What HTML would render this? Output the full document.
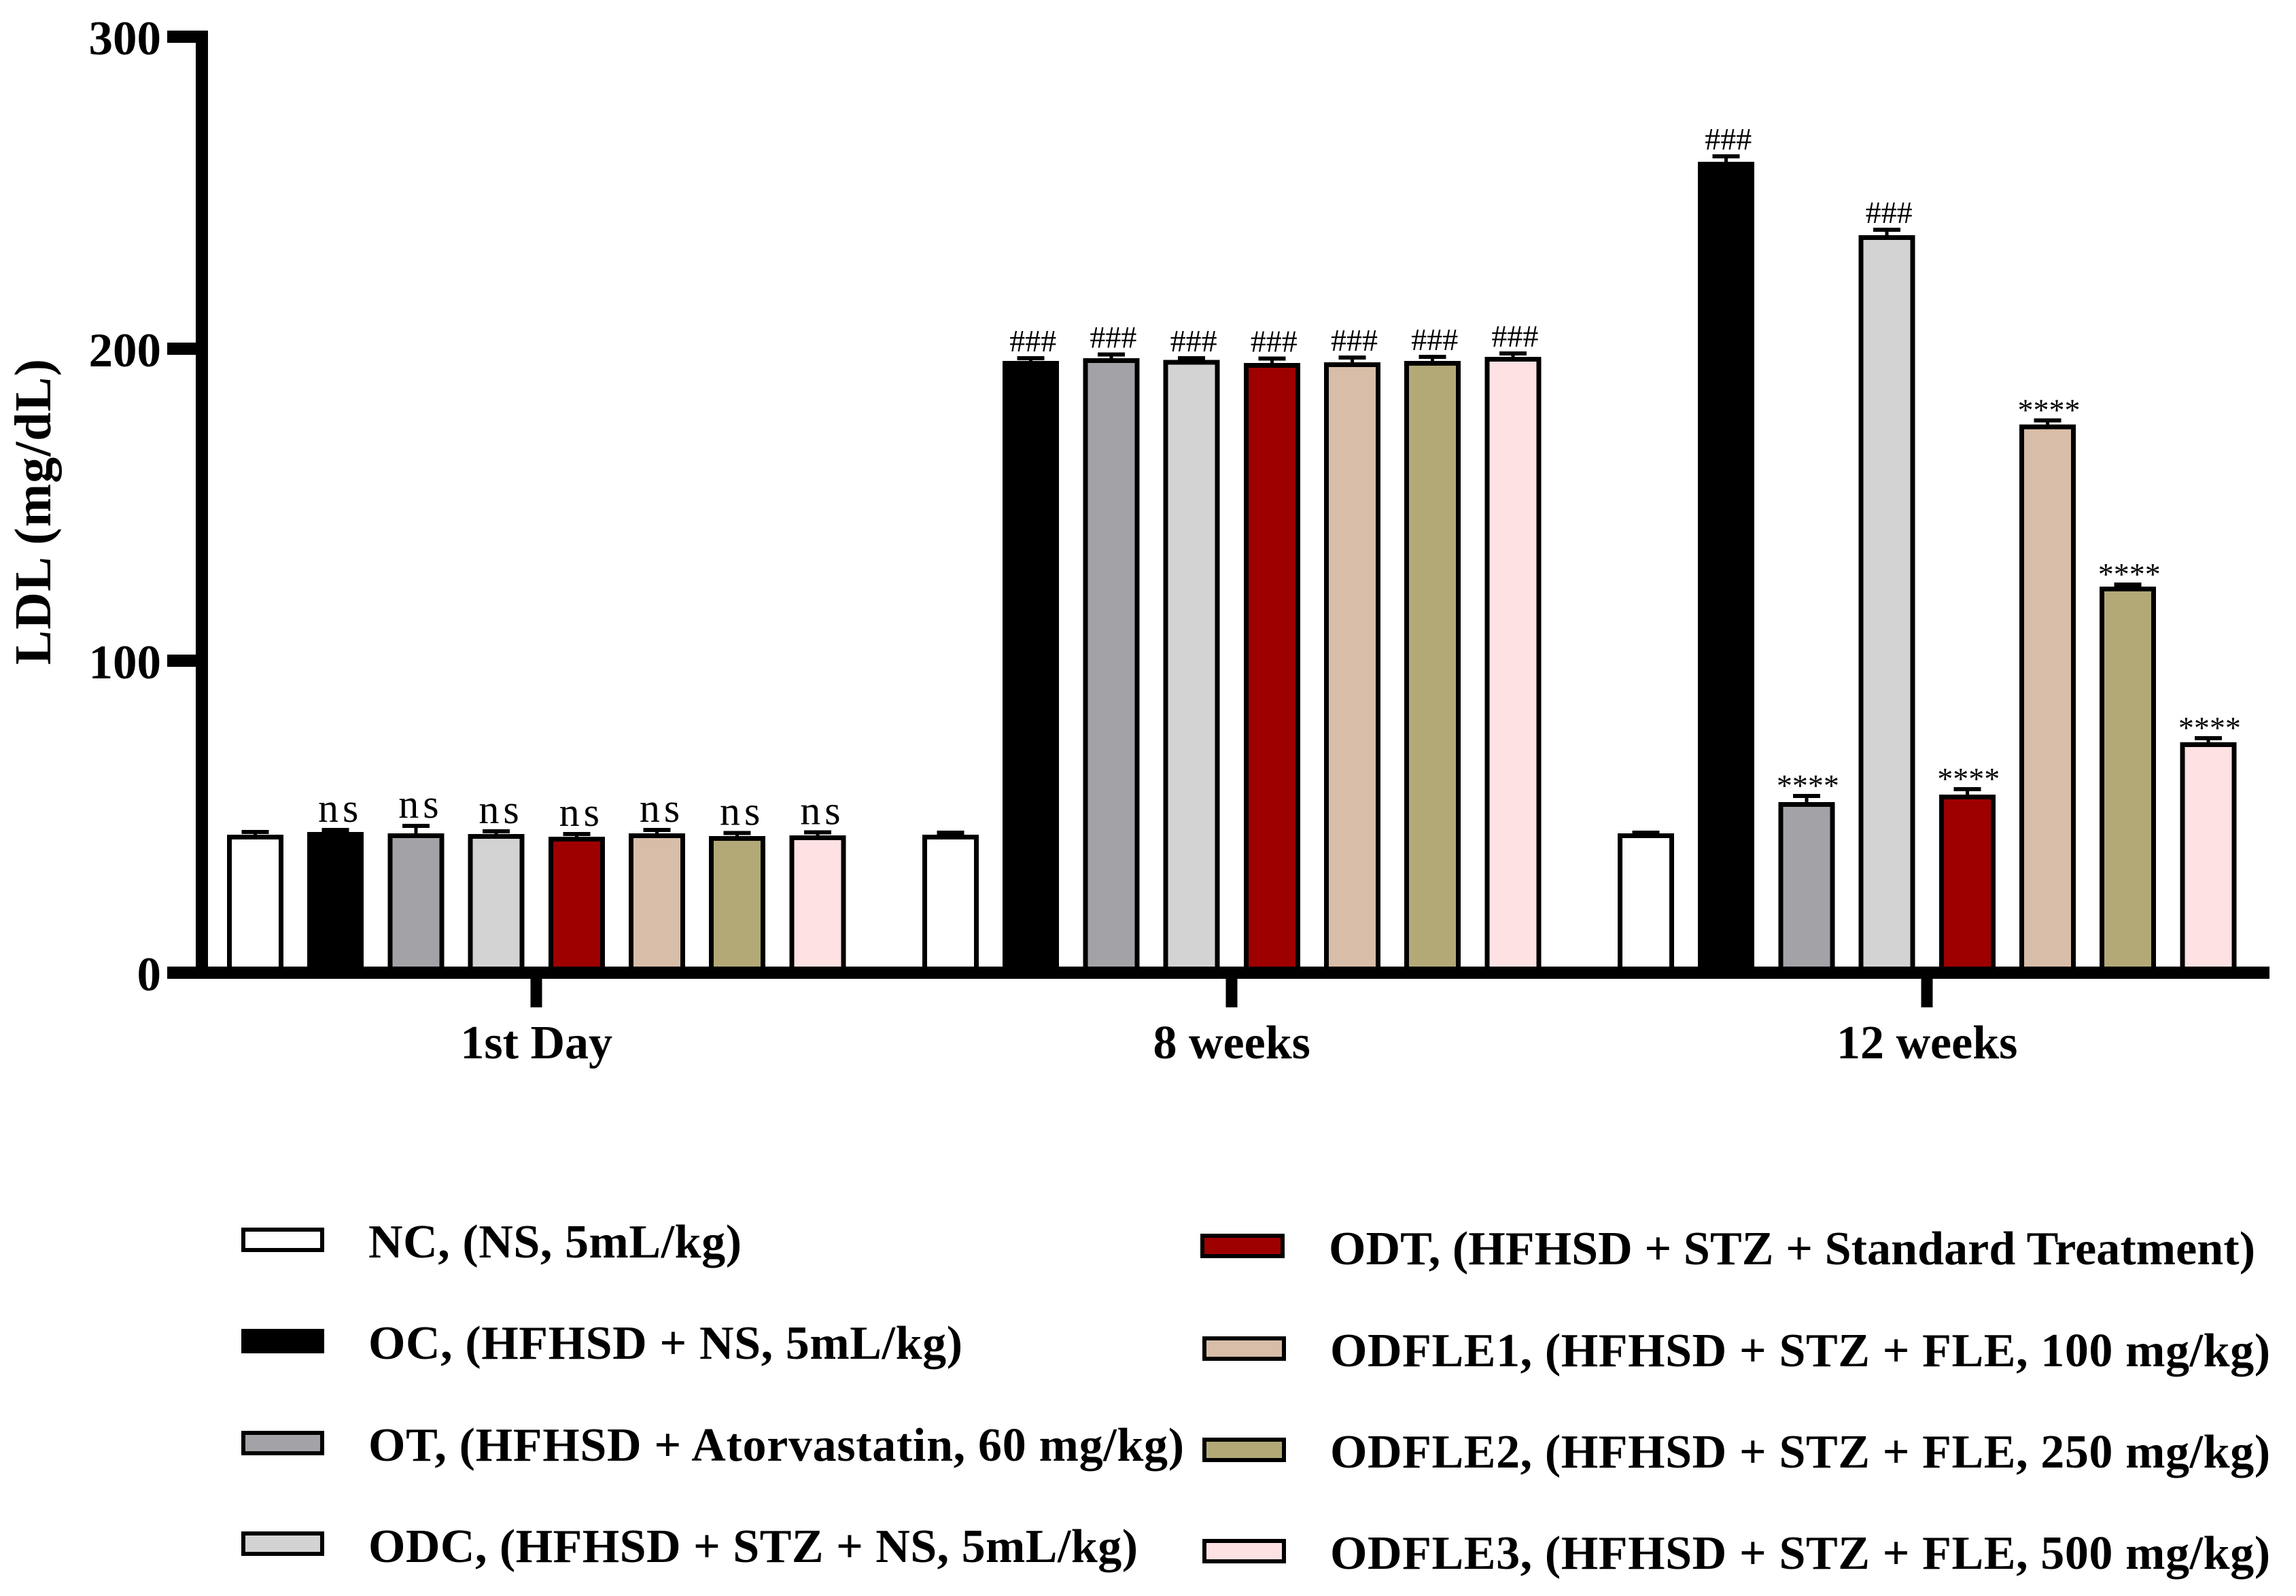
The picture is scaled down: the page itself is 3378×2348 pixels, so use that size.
<!DOCTYPE html>
<html lang="en">
<head>
<meta charset="utf-8">
<title>LDL (mg/dL) bar chart</title>
<style>
  html, body { margin: 0; padding: 0; background: #fff; }
  body { width: 3378px; height: 2348px; overflow: hidden; }
  svg { display: block; }
  text { font-family: "Liberation Serif", serif; fill: #000; }
  .bold { font-weight: 700; }
  rect { shape-rendering: crispEdges; }
</style>
</head>
<body>
<svg id="chart" xmlns="http://www.w3.org/2000/svg" width="3378" height="2348" viewBox="0 0 3378 2348">
  <rect x="0" y="0" width="3378" height="2348" fill="#ffffff"/>
  <text class="bold" transform="translate(74,978) rotate(-90)" font-size="76" textLength="450" lengthAdjust="spacing">LDL (mg/dL)</text>
  <g id="marks"></g>
  <g id="axes"></g>

  <g>
    <g>
      <rect x="358" y="1809" width="116" height="30" fill="#ffffff" stroke="#000" stroke-width="6"/>
      <text class="bold" x="542" y="1850" font-size="70" textLength="549" lengthAdjust="spacing">NC, (NS, 5mL/kg)</text>
    </g>
    <g>
      <rect x="358" y="1958" width="116" height="30" fill="#000000" stroke="#000" stroke-width="6"/>
      <text class="bold" x="542" y="1999" font-size="70" textLength="874" lengthAdjust="spacing">OC, (HFHSD + NS, 5mL/kg)</text>
    </g>
    <g>
      <rect x="358" y="2108" width="116" height="30" fill="#a3a2a7" stroke="#000" stroke-width="6"/>
      <text class="bold" x="542" y="2149" font-size="70" textLength="1200" lengthAdjust="spacing">OT, (HFHSD + Atorvastatin, 60 mg/kg)</text>
    </g>
    <g>
      <rect x="358" y="2256" width="116" height="30" fill="#d3d3d3" stroke="#000" stroke-width="6"/>
      <text class="bold" x="542" y="2298" font-size="70" textLength="1132" lengthAdjust="spacing">ODC, (HFHSD + STZ + NS, 5mL/kg)</text>
    </g>
    <g>
      <rect x="1769" y="1818" width="118" height="30" fill="#9e0000" stroke="#000" stroke-width="6"/>
      <text class="bold" x="1955" y="1860" font-size="70" textLength="1363" lengthAdjust="spacing">ODT, (HFHSD + STZ + Standard Treatment)</text>
    </g>
    <g>
      <rect x="1772" y="1969" width="117" height="30" fill="#d8bda8" stroke="#000" stroke-width="6"/>
      <text class="bold" x="1957" y="2010" font-size="70" textLength="1383" lengthAdjust="spacing">ODFLE1, (HFHSD + STZ + FLE, 100 mg/kg)</text>
    </g>
    <g>
      <rect x="1772" y="2118" width="117" height="30" fill="#b3a977" stroke="#000" stroke-width="6"/>
      <text class="bold" x="1957" y="2159" font-size="70" textLength="1383" lengthAdjust="spacing">ODFLE2, (HFHSD + STZ + FLE, 250 mg/kg)</text>
    </g>
    <g>
      <rect x="1772" y="2267" width="117" height="30" fill="#fde1e3" stroke="#000" stroke-width="6"/>
      <text class="bold" x="1957" y="2308" font-size="70" textLength="1383" lengthAdjust="spacing">ODFLE3, (HFHSD + STZ + FLE, 500 mg/kg)</text>
    </g>
  </g>
</svg>

<script>
const timepoints = ['1st Day', '8 weeks', '12 weeks'];
const seriesNames = ['nc', 'oc', 'ot', 'odc', 'odt', 'odfle1', 'odfle2', 'odfle3'];
const seriesColors = ['#ffffff', '#000000', '#a3a2a7', '#d3d3d3', '#9e0000', '#d8bda8', '#b3a977', '#fde1e3'];
const yTicks = [0, 100, 200, 300];

const day1Values = [43.5, 44.3, 43.9, 43.7, 42.8, 43.9, 43.0, 43.2];
const day1Errors = [1.6, 1.4, 3.2, 1.6, 1.6, 1.8, 1.8, 1.8];
const day1Marks = ['', 'ns', 'ns', 'ns', 'ns', 'ns', 'ns', 'ns'];

const week8Values = [43.5, 195.3, 196.2, 195.6, 194.7, 194.9, 195.3, 196.6];
const week8Errors = [1.4, 1.6, 1.9, 1.4, 2.1, 2.3, 2.1, 1.9];
const week8Marks = ['', '###', '###', '###', '###', '###', '###', '###'];

const week12Values = [43.9, 259.2, 53.9, 235.6, 56.3, 174.9, 123.0, 73.1];
const week12Errors = [1.0, 2.5, 2.7, 2.5, 2.5, 2.1, 1.4, 2.1];
const week12Marks = ['', '###', '****', '###', '****', '****', '****', '****'];

const groupValues = [day1Values, week8Values, week12Values];
const groupErrors = [day1Errors, week8Errors, week12Errors];
const groupMarks = [day1Marks, week8Marks, week12Marks];

const SVG_NS = 'http://www.w3.org/2000/svg';
const marksLayer = document.getElementById('marks');
const axesLayer = document.getElementById('axes');

function yScale(v) { return 1431 - 4.59 * v; }
function groupCenter(g) { return 789.2 + 1023 * g; }
function xScale(g, i) { return groupCenter(g) + (i - 3.5) * 118.2; }

function make(tag, attrs, parent) {
  const el = document.createElementNS(SVG_NS, tag);
  for (const k in attrs) el.setAttribute(k, attrs[k]);
  parent.appendChild(el);
  return el;
}

timepoints.forEach(function (tp, g) {
  seriesNames.forEach(function (name, i) {
    const v = groupValues[g][i];
    const e = groupErrors[g][i];
    const cx = xScale(g, i);
    const slug = name + '-' + tp.toLowerCase().replace(/\s+/g, '-');

    const stem = make('rect', { x: cx - 2.5, y: yScale(v + e), width: 5, height: yScale(v) - yScale(v + e), fill: '#000' }, marksLayer);
    
    

    const cap = make('rect', { x: cx - 20, y: yScale(v + e) - 3, width: 40, height: 6, fill: '#000' }, marksLayer);
    
    

    const bar = make('rect', { x: cx - 38, y: yScale(v), width: 76, height: yScale(0) - yScale(v), fill: seriesColors[i], stroke: '#000', 'stroke-width': 7 }, marksLayer);
    
    

    const label = groupMarks[g][i];
    if (label) {
      const capTop = yScale(v + e) - 3;
      let attrs;
      if (label === 'ns') {
        attrs = { x: cx + 7, y: capTop - 9, 'font-size': 60, 'letter-spacing': 6, 'text-anchor': 'middle' };
      } else if (label === '###') {
        attrs = { x: cx + 3, y: capTop - 7, 'font-size': 46, 'text-anchor': 'middle' };
      } else {
        attrs = { x: cx + 2, y: capTop + 3, 'font-size': 46, 'text-anchor': 'middle' };
      }
      const mark = make('text', attrs, marksLayer);
      mark.textContent = label;
      
      
    }
  });
});

const yAxisLine = make('rect', { x: 288, y: 45, width: 18, height: yScale(0) - 45 + 9, fill: '#000' }, axesLayer);



const xAxisLine = make('rect', { x: 246, y: yScale(0) - 9, width: 3093, height: 18, fill: '#000' }, axesLayer);



yTicks.forEach(function (t) {
  const tick = make('rect', { x: 246, y: yScale(t) - 9, width: 42, height: 18, fill: '#000' }, axesLayer);
  
  

  const lab = make('text', { x: 237, y: yScale(t) + 26, 'font-size': 71, 'font-weight': 700, 'text-anchor': 'end' }, axesLayer);
  lab.textContent = String(t);
  
  
});

timepoints.forEach(function (tp, g) {
  const cx = groupCenter(g);
  const tick = make('rect', { x: cx - 8.5, y: yScale(0) + 9, width: 17, height: 42, fill: '#000' }, axesLayer);
  
  

  const lab = make('text', { x: cx, y: 1557, 'font-size': 70, 'font-weight': 700, 'text-anchor': 'middle' }, axesLayer);
  lab.textContent = tp;
  
  
});
</script>
</body>
</html>
